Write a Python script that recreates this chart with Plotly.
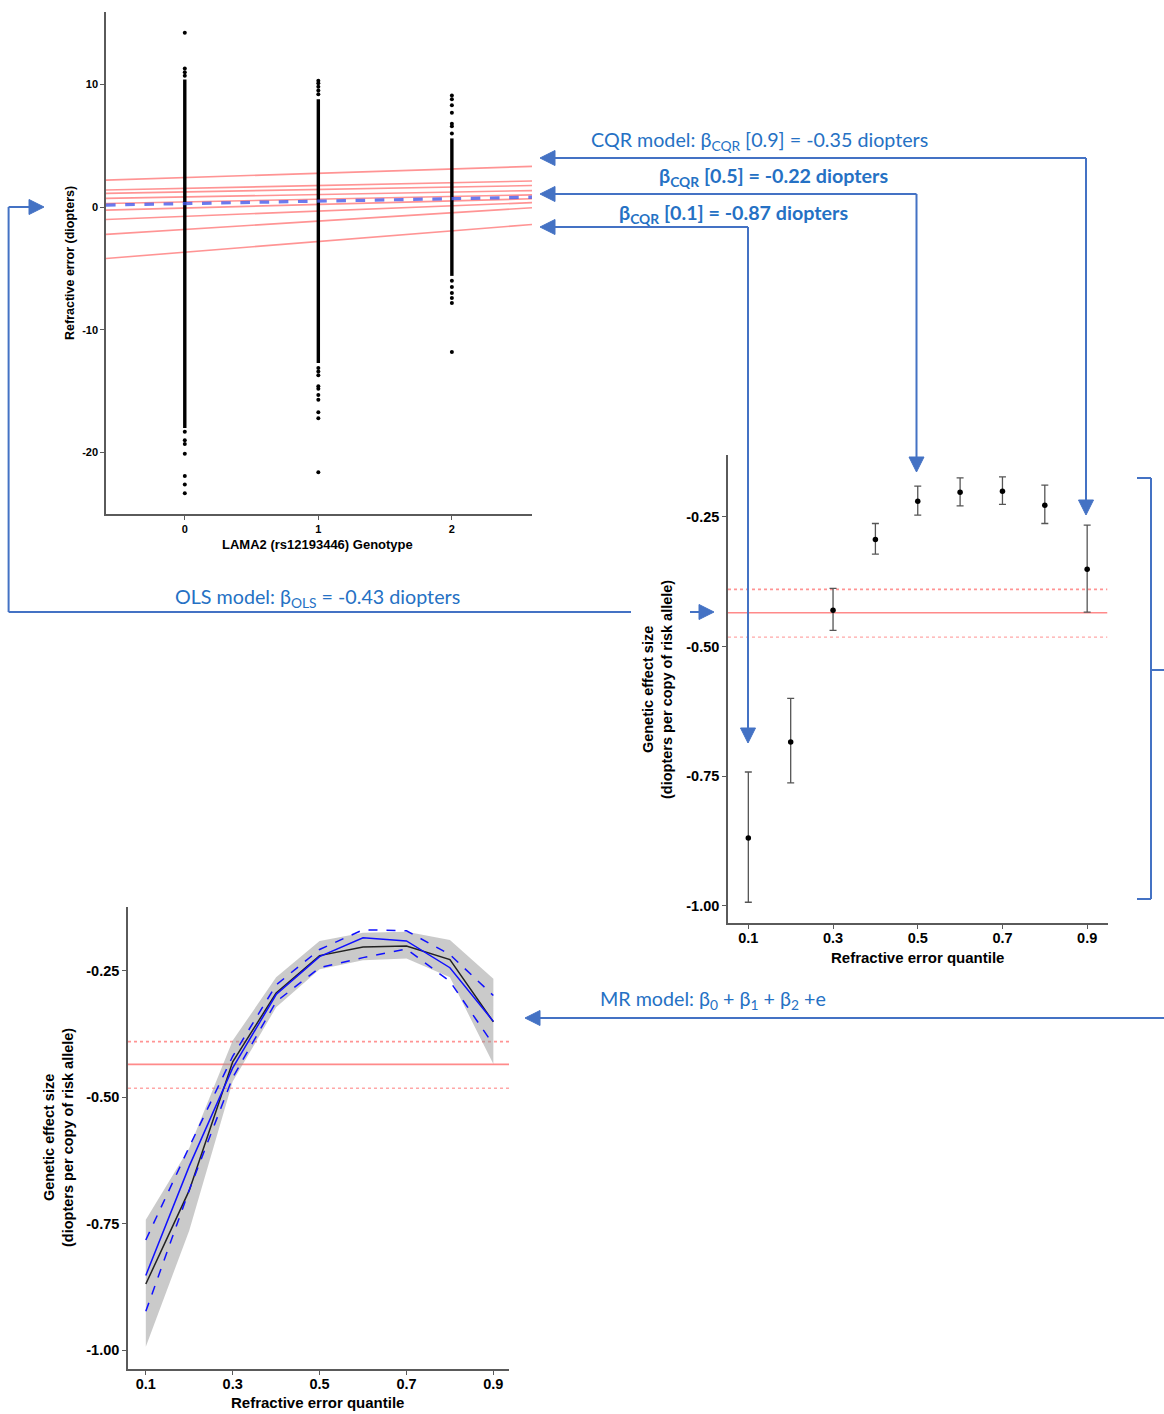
import plotly.graph_objects as go

W, H = 1164, 1414

# ---------------- data ----------------
genotype = [0, 1, 2]
genotype_labels = ["0", "1", "2"]
# dense (continuous-looking) part of each genotype column
dense_low = [-18.0, -12.7, -5.6]
dense_high = [10.4, 8.8, 5.6]
# individually visible points outside the dense part
sparse_g0 = [14.2, 11.3, 11.0, 10.7, -18.3, -19.0, -19.3, -20.1, -21.9, -22.6, -23.3]
sparse_g1 = [10.3, 10.1, 9.8, 9.5, 9.2, -13.1, -13.4, -13.7, -14.6, -14.8, -15.3,
             -15.7, -16.7, -17.2, -21.6]
sparse_g2 = [9.1, 8.8, 8.3, 7.7, 6.8, 6.6, 6.0, -6.0, -6.5, -7.0, -7.4, -7.8, -11.8]
sparse_points = [sparse_g0, sparse_g1, sparse_g2]

# quantile regression lines in the scatter panel (value at genotype 0, slope per allele)
quantile = [0.1, 0.2, 0.3, 0.4, 0.5, 0.6, 0.7, 0.8, 0.9]
quantile_labels = ["0.1", "0.3", "0.5", "0.7", "0.9"]
qr_intercept = [-3.67, -1.82, -0.75, -0.07, 0.43, 0.83, 1.24, 1.53, 2.41]
qr_slope = [0.87, 0.68, 0.43, 0.29, 0.22, 0.20, 0.20, 0.23, 0.35]
ols_intercept = 0.29
ols_slope = 0.20

# CQR estimates with 95% CI
cqr_beta = [-0.869, -0.684, -0.430, -0.294, -0.220, -0.203, -0.201, -0.228, -0.351]
cqr_lower = [-0.993, -0.763, -0.469, -0.322, -0.247, -0.229, -0.226, -0.263, -0.434]
cqr_upper = [-0.742, -0.600, -0.388, -0.263, -0.191, -0.175, -0.173, -0.189, -0.266]

# OLS estimate with 95% CI
ols_beta = -0.435
ols_lower = -0.482
ols_upper = -0.390

# MR (quadratic) model fit with CI
mr_fit = [-0.852, -0.636, -0.442, -0.297, -0.222, -0.185, -0.191, -0.244, -0.350]
mr_upper = [-0.782, -0.598, -0.419, -0.278, -0.208, -0.169, -0.171, -0.218, -0.299]
mr_lower = [-0.923, -0.683, -0.461, -0.311, -0.244, -0.224, -0.207, -0.271, -0.396]

effect_ticks = [-1.0, -0.75, -0.5, -0.25]
effect_labels = ["-1.00", "-0.75", "-0.50", "-0.25"]
re_ticks = [-20, -10, 0, 10]
re_labels = ["-20", "-10", "0", "10"]

# ---------------- layout geometry (pixels) ----------------
def dom_x(a, b):
    return [a / W, b / W]

def dom_y(top, bottom):
    return [1 - bottom / H, 1 - top / H]

def P(x, y):
    return x / W, 1 - y / H

x1_range = [-0.59, 2.6]
y1_range = [-25.0, 15.9]
x2_range = [0.052, 0.948]
y2_range = [-1.033, -0.131]
x3_range = [0.059, 0.936]
y3_range = [-1.0375, -0.124]

FONT = "Liberation Sans"
AXC = "#5a5a5a"

fig = go.Figure()

# ---------------- panel 1: scatter ----------------
red_line = "rgba(255,60,60,0.55)"
for a, b in zip(qr_intercept, qr_slope):
    fig.add_trace(go.Scatter(x=x1_range, y=[a + b * x1_range[0], a + b * x1_range[1]],
                             mode="lines", line=dict(color=red_line, width=1.6),
                             xaxis="x", yaxis="y", showlegend=False, hoverinfo="skip"))
for g, lo, hi in zip(genotype, dense_low, dense_high):
    fig.add_trace(go.Scatter(x=[g, g], y=[lo, hi], mode="lines",
                             line=dict(color="black", width=3.4),
                             xaxis="x", yaxis="y", showlegend=False))
for g, pts in zip(genotype, sparse_points):
    fig.add_trace(go.Scatter(x=[g] * len(pts), y=pts, mode="markers",
                             marker=dict(color="black", size=4),
                             xaxis="x", yaxis="y", showlegend=False))
fig.add_trace(go.Scatter(x=x1_range,
                         y=[ols_intercept + ols_slope * x1_range[0],
                            ols_intercept + ols_slope * x1_range[1]],
                         mode="lines", line=dict(color="rgba(70,90,235,0.8)", width=3.2, dash="dash"),
                         xaxis="x", yaxis="y", showlegend=False))

# ---------------- panel 2: CQR ----------------
def ols_lines(xa, ya, xr):
    fig.add_trace(go.Scatter(x=xr, y=[ols_upper, ols_upper], mode="lines",
                             line=dict(color="rgba(255,60,60,0.55)", width=1.6, dash="dot"),
                             xaxis=xa, yaxis=ya, showlegend=False))
    fig.add_trace(go.Scatter(x=xr, y=[ols_lower, ols_lower], mode="lines",
                             line=dict(color="rgba(255,60,60,0.45)", width=1.4, dash="dot"),
                             xaxis=xa, yaxis=ya, showlegend=False))
    fig.add_trace(go.Scatter(x=xr, y=[ols_beta, ols_beta], mode="lines",
                             line=dict(color="rgba(255,60,60,0.6)", width=1.6),
                             xaxis=xa, yaxis=ya, showlegend=False))

ols_lines("x2", "y2", x2_range)
fig.add_trace(go.Scatter(
    x=quantile, y=cqr_beta, mode="markers",
    marker=dict(color="black", size=5.5),
    error_y=dict(type="data", symmetric=False,
                 array=[u - b for u, b in zip(cqr_upper, cqr_beta)],
                 arrayminus=[b - l for l, b in zip(cqr_lower, cqr_beta)],
                 color="#555555", thickness=1.3, width=3.5),
    xaxis="x2", yaxis="y2", showlegend=False))

# ---------------- panel 3: MR ----------------
ols_lines("x3", "y3", x3_range)
fig.add_trace(go.Scatter(x=quantile + quantile[::-1], y=cqr_upper + cqr_lower[::-1],
                         fill="toself", fillcolor="rgba(150,150,150,0.5)",
                         line=dict(width=0), mode="lines",
                         xaxis="x3", yaxis="y3", showlegend=False, hoverinfo="skip"))
fig.add_trace(go.Scatter(x=quantile, y=cqr_beta, mode="lines",
                         line=dict(color="#222222", width=1.5),
                         xaxis="x3", yaxis="y3", showlegend=False))
fig.add_trace(go.Scatter(x=quantile, y=mr_fit, mode="lines",
                         line=dict(color="#1010ff", width=1.5),
                         xaxis="x3", yaxis="y3", showlegend=False))
for arr in (mr_upper, mr_lower):
    fig.add_trace(go.Scatter(x=quantile, y=arr, mode="lines",
                             line=dict(color="#1010ff", width=1.5, dash="dash"),
                             xaxis="x3", yaxis="y3", showlegend=False))

# ---------------- axes ----------------
def axis(domain, rng, tickvals, ticktext, anchor, size, standoff=None):
    d = dict(domain=domain, range=rng, tickvals=tickvals, ticktext=ticktext,
             anchor=anchor, showline=True, linecolor=AXC, linewidth=1.5,
             ticks="outside", ticklen=4, tickwidth=1, tickcolor=AXC,
             showgrid=False, zeroline=False, automargin=False,
             tickfont=dict(family=FONT, size=size, color="black", weight="bold"))
    if standoff is not None:
        d["ticklabelstandoff"] = standoff
    return d

quant_ticks = [0.1, 0.3, 0.5, 0.7, 0.9]

fig.update_layout(
    width=W, height=H, margin=dict(l=0, r=0, t=0, b=0),
    paper_bgcolor="white", plot_bgcolor="white", showlegend=False,
    xaxis=axis(dom_x(106, 532), x1_range, genotype, genotype_labels, "y", 11),
    yaxis=axis(dom_y(12, 514), y1_range, re_ticks, re_labels, "x", 11),
    xaxis2=axis(dom_x(728, 1107.5), x2_range, quant_ticks, quantile_labels, "y2", 14.5, -3),
    yaxis2=axis(dom_y(455, 923), y2_range, effect_ticks, effect_labels, "x2", 14.5),
    xaxis3=axis(dom_x(128, 509), x3_range, quant_ticks, quantile_labels, "y3", 14.5, -3),
    yaxis3=axis(dom_y(907, 1369.3), y3_range, effect_ticks, effect_labels, "x3", 14.5),
)

# ---------------- axis titles ----------------
def label(x, y, text, size, angle=0, color="black", family=FONT, weight="bold"):
    px, py = P(x, y)
    fig.add_annotation(x=px, y=py, xref="paper", yref="paper", text=text,
                       showarrow=False, textangle=angle, xanchor="center", yanchor="middle",
                       font=dict(family=family, size=size, color=color, weight=weight))

label(70, 263, "Refractive error (diopters)", 12.5, angle=-90)
label(318, 544, "LAMA2 (rs12193446) Genotype", 13)
label(657, 690, "Genetic effect size<br>(diopters per copy of risk allele)", 14.5, angle=-90)
label(917, 957, "Refractive error quantile", 15)
label(58, 1138, "Genetic effect size<br>(diopters per copy of risk allele)", 14.5, angle=-90)
label(318, 1402, "Refractive error quantile", 15)

# ---------------- blue annotation texts ----------------
TXT = "#2571c4"
AFONT = "Lato"
AS = 19.7
label(759, 141, "CQR model: β<sub>CQR</sub> [0.9] = -0.35 diopters", AS, color=TXT, family=AFONT, weight="normal")
label(773, 177, "β<sub>CQR</sub> [0.5] = -0.22 diopters", AS, color=TXT, family=AFONT, weight="bold")
label(733, 214, "β<sub>CQR</sub> [0.1] = -0.87 diopters", AS, color=TXT, family=AFONT, weight="bold")
label(318, 598, "OLS model: β<sub>OLS</sub> = -0.43 diopters", AS, color=TXT, family=AFONT, weight="normal")
label(713, 1000, "MR model: β<sub>0</sub> + β<sub>1</sub> + β<sub>2</sub> +e", AS, color=TXT, family=AFONT, weight="normal")

# ---------------- connector arrows ----------------
ARC = "#4472c4"

def seg(x0, y0, x1, y1):
    a, b = P(x0, y0)
    c, d = P(x1, y1)
    fig.add_shape(type="line", xref="paper", yref="paper", x0=a, y0=b, x1=c, y1=d,
                  line=dict(color=ARC, width=2))

def head(tx, ty, direction, L=15, Wd=15):
    if direction == "left":
        pts = [(tx, ty), (tx + L, ty - Wd / 2), (tx + L, ty + Wd / 2)]
    elif direction == "right":
        pts = [(tx, ty), (tx - L, ty - Wd / 2), (tx - L, ty + Wd / 2)]
    else:  # down
        pts = [(tx, ty), (tx - Wd / 2, ty - L), (tx + Wd / 2, ty - L)]
    pp = [P(x, y) for x, y in pts]
    path = "M {},{} L {},{} L {},{} Z".format(pp[0][0], pp[0][1], pp[1][0], pp[1][1], pp[2][0], pp[2][1])
    fig.add_shape(type="path", xref="paper", yref="paper", path=path,
                  fillcolor=ARC, line=dict(color=ARC, width=1))

# CQR 0.9
head(540, 158, "left"); seg(552, 158, 1086, 158); seg(1086, 158, 1086, 502); head(1086, 515, "down")
# CQR 0.5
head(540, 194, "left"); seg(552, 194, 916.5, 194); seg(916.5, 194, 916.5, 460); head(916.5, 472, "down")
# CQR 0.1
head(540, 227, "left"); seg(552, 227, 748, 227); seg(748, 227, 748, 730); head(748, 743, "down")
# OLS
head(44, 207, "right"); seg(8.6, 207, 32, 207); seg(8.6, 207, 8.6, 612); seg(8.6, 612, 631, 612)
seg(690, 612, 702, 612); head(714, 612, "right")
# MR
seg(1164, 1018, 537, 1018); head(525, 1018, "left")
# bracket
seg(1151, 478, 1151, 899); seg(1137, 478, 1151, 478); seg(1137, 899, 1151, 899); seg(1151, 670, 1164, 670)

fig.write_html("out.html", config={"displayModeBar": False},
               post_script="document.body.style.margin='0';document.body.style.overflow='hidden';")
